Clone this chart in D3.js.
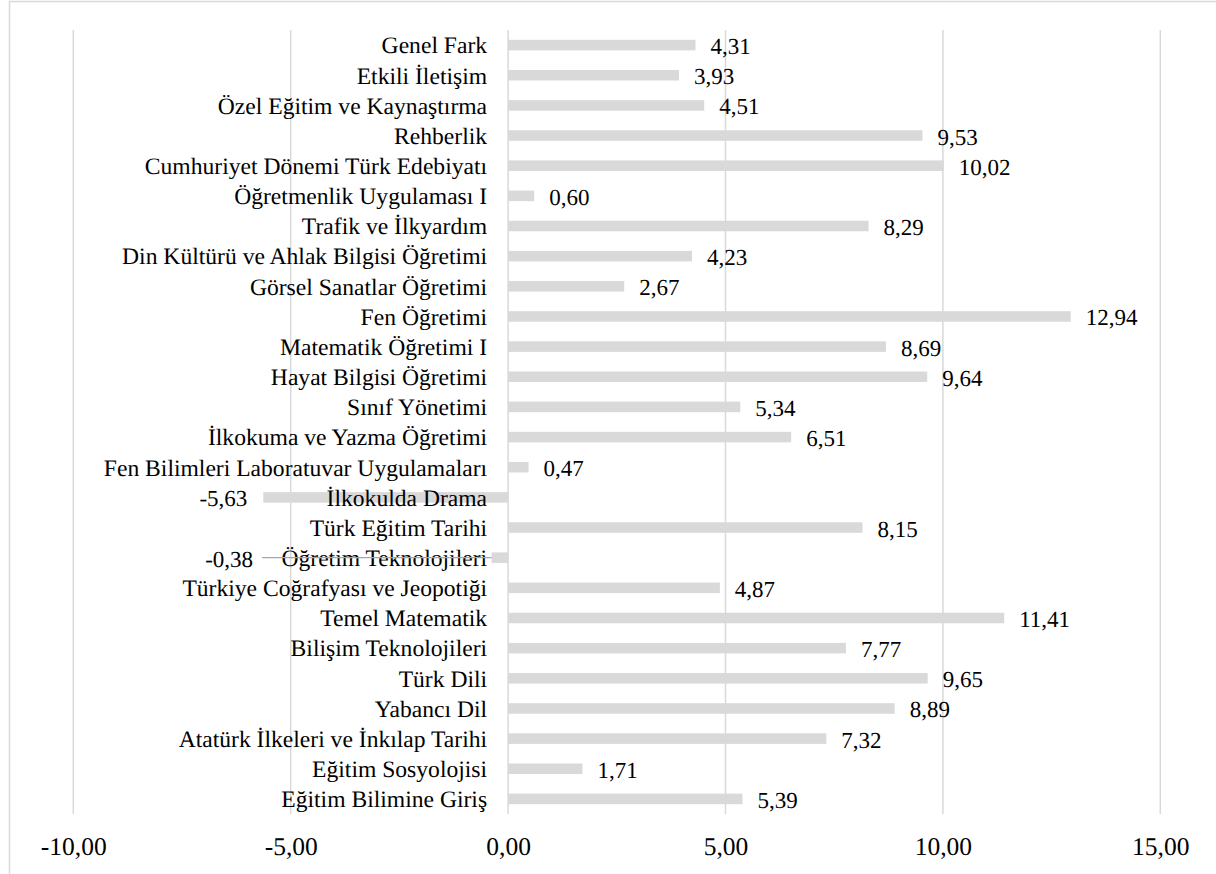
<!DOCTYPE html>
<html>
<head>
<meta charset="utf-8">
<script src="https://cdn.jsdelivr.net/npm/d3@7"></script>
</head>
<body style="margin:0;background:#fff">
<svg id="chart" width="1216" height="874" style="display:block"></svg>
<script>
const categories = [
  "Genel Fark",
  "Etkili İletişim",
  "Özel Eğitim ve Kaynaştırma",
  "Rehberlik",
  "Cumhuriyet Dönemi Türk Edebiyatı",
  "Öğretmenlik Uygulaması I",
  "Trafik ve İlkyardım",
  "Din Kültürü ve Ahlak Bilgisi Öğretimi",
  "Görsel Sanatlar Öğretimi",
  "Fen Öğretimi",
  "Matematik Öğretimi I",
  "Hayat Bilgisi Öğretimi",
  "Sınıf Yönetimi",
  "İlkokuma ve Yazma Öğretimi",
  "Fen Bilimleri Laboratuvar Uygulamaları",
  "İlkokulda Drama",
  "Türk Eğitim Tarihi",
  "Öğretim Teknolojileri",
  "Türkiye Coğrafyası ve Jeopotiği",
  "Temel Matematik",
  "Bilişim Teknolojileri",
  "Türk Dili",
  "Yabancı Dil",
  "Atatürk İlkeleri ve İnkılap Tarihi",
  "Eğitim Sosyolojisi",
  "Eğitim Bilimine Giriş"
];
const values = [
  4.31, 3.93, 4.51, 9.53, 10.02, 0.60, 8.29, 4.23, 2.67, 12.94,
  8.69, 9.64, 5.34, 6.51, 0.47, -5.63, 8.15, -0.38, 4.87, 11.41,
  7.77, 9.65, 8.89, 7.32, 1.71, 5.39
];
const tickValues = [-10, -5, 0, 5, 10, 15];

const FONT = '"Liberation Serif"';
const svg = d3.select("#chart").style("text-rendering", "geometricPrecision");
const W = 1216, H = 874;

// chart frame (extends past the picture on right/bottom)
svg.append("rect")
  .attr("x", 9.5).attr("y", 1.5)
  .attr("width", W + 20).attr("height", H + 20)
  .attr("fill", "none").attr("stroke", "#d9d9d9").attr("stroke-width", 1.5);

const plot = { left: 73.3, right: 1160.3, top: 30, bottom: 814 };

const x = d3.scaleLinear().domain([-10, 15]).range([plot.left, plot.right]);
const y = d3.scaleBand().domain(categories).range([plot.top, plot.bottom])
  .paddingInner(0.65).paddingOuter(0.325);

const locale = d3.formatLocale({ decimal: ",", thousands: ".", grouping: [3], currency: ["", ""], minus: "-" });
const fmt = locale.format(".2f");

// gridlines
svg.append("g").selectAll("line").data(tickValues).join("line")
  .attr("x1", d => x(d)).attr("x2", d => x(d))
  .attr("y1", plot.top).attr("y2", plot.bottom)
  .attr("stroke", "#d9d9d9").attr("stroke-width", 1.5);

// x axis labels
const xAxis = d3.axisBottom(x).tickValues(tickValues).tickFormat(fmt).tickSize(0).tickPadding(0);
const gx = svg.append("g").attr("transform", `translate(0,${plot.bottom})`).call(xAxis);
gx.attr("font-family", null).attr("font-size", null);
gx.select(".domain").remove();
gx.selectAll("text")
  .attr("dy", null).attr("y", 41)
  .style("font-family", FONT)
  .style("font-size", "25.5px").attr("fill", "#000");

const data = categories.map((c, i) => ({ c, v: values[i] }));

// bars
svg.append("g").selectAll("rect").data(data).join("rect")
  .attr("x", d => x(Math.min(0, d.v)))
  .attr("width", d => Math.abs(x(d.v) - x(0)))
  .attr("y", d => y(d.c))
  .attr("height", y.bandwidth())
  .attr("fill", "#d9d9d9");

// category labels (right-aligned, left of the zero line)
svg.append("g").selectAll("text").data(data).join("text")
  .attr("x", x(0) - 21)
  .attr("y", d => y(d.c) + y.bandwidth() / 2 + 8.3)
  .attr("text-anchor", "end")
  .style("font-family", FONT)
  .style("font-size", "23.6px")
  .attr("fill", "#000")
  .text(d => d.c);

// value labels
const movedLabel = { "Öğretim Teknolojileri": -5.52 }; // label dragged away, with leader line
const labelX = d => {
  if (movedLabel[d.c] !== undefined) return x(movedLabel[d.c]) - 15;
  return d.v >= 0 ? x(d.v) + 15 : x(d.v) - 16;
};
svg.append("g").selectAll("text").data(data).join("text")
  .attr("x", labelX)
  .attr("y", d => y(d.c) + y.bandwidth() / 2 + 9)
  .attr("text-anchor", d => d.v >= 0 ? "start" : "end")
  .style("font-family", FONT)
  .style("font-size", "23px")
  .attr("fill", "#000")
  .text(d => fmt(d.v));

// leader lines
svg.append("g").selectAll("line").data(data.filter(d => movedLabel[d.c] !== undefined)).join("line")
  .attr("x1", d => labelX(d) + 9)
  .attr("x2", d => x(d.v))
  .attr("y1", d => y(d.c) + y.bandwidth() / 2)
  .attr("y2", d => y(d.c) + y.bandwidth() / 2)
  .attr("stroke", "#a6a6a6").attr("stroke-width", 1.2);
</script>
</body>
</html>
